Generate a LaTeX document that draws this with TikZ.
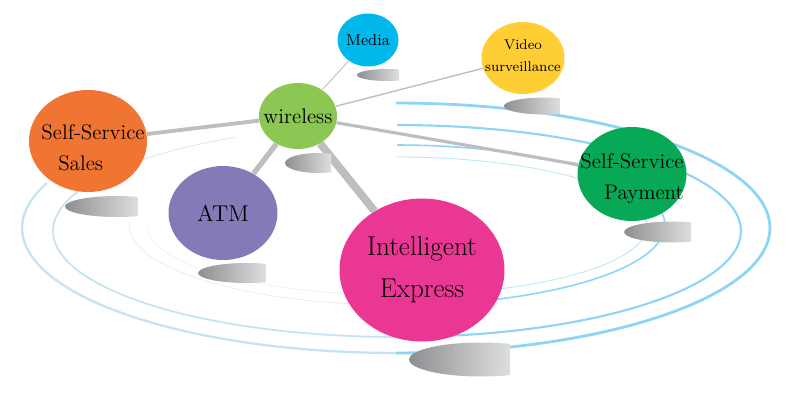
\documentclass[tikz,border=0pt]{standalone}
\usepackage{tikz}
\usepackage{xcolor}
\usetikzlibrary{shapes.geometric}
\definecolor{salesorange}{HTML}{F07432}
\definecolor{wirelessgreen}{HTML}{8CC653}
\definecolor{mediablue}{HTML}{00B8EC}
\definecolor{videoyellow}{HTML}{FFCD34}
\definecolor{atmpurple}{HTML}{837BB8}
\definecolor{expresspink}{HTML}{EA3793}
\definecolor{paygreen}{HTML}{07A957}
\definecolor{linkgray}{HTML}{BDBEBF}
\definecolor{orbitblue}{HTML}{8ED5F4}
\definecolor{orbitpale}{HTML}{C6E3EE}
\definecolor{platedark}{HTML}{85878A}
\definecolor{platelight}{HTML}{DDDFDF}

\begin{document}
\begin{tikzpicture}[x=0.02cm, y=0.02cm,
    bubble/.style={ellipse, inner sep=0pt, draw=none},
    txt/.style={align=center, text=black, inner sep=0pt},
    link/.style={color=linkgray},
    plate/.style={left color=platedark, right color=platelight, draw=none}
]
  \useasboundingbox (0,0) rectangle (800,400);

  % Orbits
  \draw[orbitblue, line width=1.6pt] (396,172) ++(90:7.48cm and 2.5cm)
    arc[start angle=90, end angle=-90, x radius=7.48cm, y radius=2.5cm];
  \draw[orbitpale, line width=1.3pt] (396,172) ++(-90:7.48cm and 2.5cm)
    arc[start angle=-90, end angle=-201, x radius=7.48cm, y radius=2.5cm];

  \draw[orbitblue, line width=1.2pt] (397,169) ++(90:6.88cm and 2.12cm)
    arc[start angle=90, end angle=-90, x radius=6.88cm, y radius=2.12cm];
  \draw[orbitpale, line width=1pt] (397,169) ++(-90:6.88cm and 2.12cm)
    arc[start angle=-90, end angle=-203, x radius=6.88cm, y radius=2.12cm];
  \draw[orbitpale!70, line width=0.5pt] (397,169) ++(118:6.88cm and 2.12cm)
    arc[start angle=118, end angle=140, x radius=6.88cm, y radius=2.12cm];

  \draw[orbitblue, line width=0.9pt] (397,175) ++(90:5.36cm and 1.6cm)
    arc[start angle=90, end angle=-90, x radius=5.36cm, y radius=1.6cm];
  \draw[orbitpale!60, line width=0.4pt] (397,175) ++(-90:5.36cm and 1.6cm)
    arc[start angle=-90, end angle=-182, x radius=5.36cm, y radius=1.6cm];

  \draw[orbitblue!60, line width=0.5pt] (397,174) ++(90:5cm and 1.38cm)
    arc[start angle=90, end angle=-90, x radius=5cm, y radius=1.38cm];
  \draw[orbitpale!50, line width=0.3pt] (397,174) ++(-90:5cm and 1.38cm)
    arc[start angle=-90, end angle=-180, x radius=5cm, y radius=1.38cm];

  % Bubbles
  \node[bubble, fill=salesorange, minimum width=2.36cm, minimum height=2.04cm,
    label={[txt, font=\large, align=left, xshift=0.1cm, yshift=-0.13cm]center:{Self-Service\\[3.5pt]\hspace*{0.8em}Sales}}]
    (sales) at (88,259) {};
  \node[bubble, fill=wirelessgreen, minimum width=1.56cm, minimum height=1.32cm,
    label={[txt, font=\large]center:wireless}] (wireless) at (298,284) {};
  \node[bubble, fill=mediablue, minimum width=1.22cm, minimum height=1.06cm,
    label={[txt, font=\small]center:Media}] (media) at (368,360) {};
  \node[bubble, fill=videoyellow, minimum width=1.66cm, minimum height=1.44cm,
    label={[txt, font=\footnotesize, yshift=0.05cm]center:{Video\\[3pt]surveillance}}] (video) at (523,342) {};
  \node[bubble, fill=atmpurple, minimum width=2.18cm, minimum height=1.88cm,
    label={[txt, font=\fontsize{13}{16}\selectfont]center:ATM}] (atm) at (223,187) {};
  \node[bubble, fill=expresspink, minimum width=3.3cm, minimum height=2.86cm,
    label={[txt, font=\fontsize{15.5}{18}\selectfont]center:{Intelligent\\[6pt]Express}}] (express) at (422,130) {};
  \node[bubble, fill=paygreen, minimum width=2.18cm, minimum height=1.88cm,
    label={[txt, font=\large, align=right, yshift=-0.1cm]center:{Self-Service\\[3.5pt]Payment}}] (payment) at (632,226) {};

  % Links from wireless
  \draw[link, line width=0.5pt] (wireless) -- (media);
  \draw[link, line width=0.8pt] (wireless) -- (video);
  \draw[link, line width=2.2pt] (wireless) -- (sales);
  \draw[link, line width=3pt] (wireless) -- (atm);
  \draw[link, line width=4.5pt] (wireless) -- (express);
  \draw[link, line width=1.8pt] (wireless) -- (payment);

  % Plates under the bubbles
  \shade[plate] (117.1,193.5) ++(66.4:1.043cm and 0.21cm)
    arc[start angle=66.4, end angle=293.6, x radius=1.043cm, y radius=0.21cm] -- cycle;
  \shade[plate] (317.9,237) ++(66.4:0.657cm and 0.2cm)
    arc[start angle=66.4, end angle=293.6, x radius=0.657cm, y radius=0.2cm] -- cycle;
  \shade[plate] (387,325) ++(66.4:0.6cm and 0.12cm)
    arc[start angle=66.4, end angle=293.6, x radius=0.6cm, y radius=0.12cm] -- cycle;
  \shade[plate] (544,294) ++(66.4:0.8cm and 0.17cm)
    arc[start angle=66.4, end angle=293.6, x radius=0.8cm, y radius=0.17cm] -- cycle;
  \shade[plate] (246.6,127) ++(66.4:0.971cm and 0.2cm)
    arc[start angle=66.4, end angle=293.6, x radius=0.971cm, y radius=0.2cm] -- cycle;
  \shade[plate] (671.9,168) ++(66.4:0.957cm and 0.21cm)
    arc[start angle=66.4, end angle=293.6, x radius=0.957cm, y radius=0.21cm] -- cycle;
  \shade[plate] (481.1,40.5) ++(66.4:1.443cm and 0.34cm)
    arc[start angle=66.4, end angle=293.6, x radius=1.443cm, y radius=0.34cm] -- cycle;
\end{tikzpicture}
\end{document}
